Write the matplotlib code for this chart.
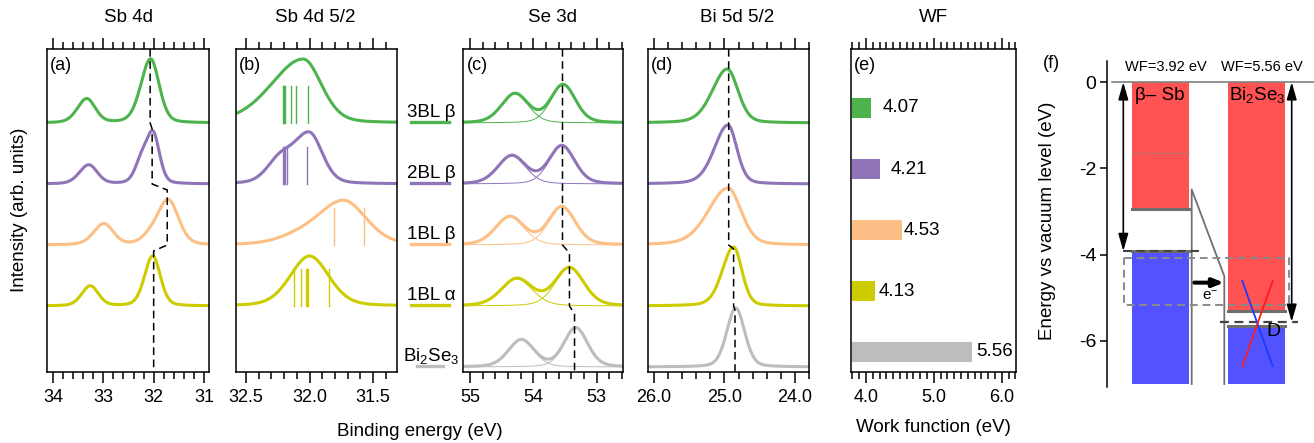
import numpy as np
import matplotlib
matplotlib.use("Agg")
import matplotlib.pyplot as plt
from matplotlib.ticker import MultipleLocator, FormatStrFormatter

plt.rcParams['font.family'] = ['Liberation Sans', 'DejaVu Sans']
plt.rcParams['mathtext.fontset'] = 'custom'
plt.rcParams['mathtext.rm'] = 'Liberation Sans'
plt.rcParams['mathtext.it'] = 'Liberation Sans:italic'
plt.rcParams['axes.unicode_minus'] = False

# ---- data ----
samples = ['3BL β', '2BL β', '1BL β', '1BL α', 'Bi$_2$Se$_3$']
colours = ['#4db34d', '#8f74b8', '#fdbf85', '#cccc00', '#bdbdbd']

# peaks: (centre eV, height, hwhm high-BE side, hwhm low-BE side)
sb4d = [
    [(32.06, 64, 0.23, 0.20), (33.33, 24, 0.22, 0.20)],
    [(32.01, 49, 0.16, 0.15), (32.25, 20, 0.15, 0.15), (33.29, 19, 0.22, 0.20)],
    [(31.71, 45, 0.26, 0.24), (32.10, 5, 0.20, 0.20), (32.99, 21, 0.24, 0.22)],
    [(32.02, 50, 0.19, 0.18), (33.26, 20, 0.20, 0.19)],
]
sb4d52 = [
    [(32.05, 64, 0.30, 0.17)],
    [(32.00, 50, 0.15, 0.12), (32.24, 21, 0.12, 0.12)],
    [(31.73, 44, 0.24, 0.21), (32.10, 6, 0.20, 0.20)],
    [(32.00, 50, 0.18, 0.18)],
]
sb4d52_calc = [
    [32.21, 32.20, 32.19, 32.15, 32.11, 32.01],
    [32.21, 32.20, 32.19, 32.18, 32.02],
    [31.81, 31.57],
    [32.12, 32.07, 32.03, 32.02, 32.01, 31.85],
]
se3d = [
    [(53.53, 38, 0.23, 0.23), (54.29, 29, 0.25, 0.25)],
    [(53.55, 38, 0.24, 0.24), (54.34, 28, 0.26, 0.26)],
    [(53.55, 38, 0.25, 0.25), (54.37, 28, 0.27, 0.27)],
    [(53.43, 38, 0.27, 0.27), (54.26, 27, 0.29, 0.29)],
    [(53.33, 39, 0.22, 0.22), (54.19, 27, 0.24, 0.24)],
]
bi5d = [
    [(24.96, 54, 0.25, 0.18)],
    [(24.95, 59, 0.23, 0.15)],
    [(24.95, 57, 0.33, 0.22)],
    [(24.87, 59, 0.19, 0.14)],
    [(24.84, 59, 0.15, 0.15)],
]
sb4d_guide = [32.07, 32.03, 31.73, 32.00]
se3d_guide = [53.54, 53.54, 53.54, 53.43, 53.35]
bi5d_guide = [24.94, 24.94, 24.94, 24.87, 24.85]

work_function = [4.07, 4.21, 4.53, 4.13, 5.56]

# band diagram (eV vs vacuum)
wf_ref = [3.92, 5.56]
cb_min = [-2.95, -5.30]
vb_max = [-3.92, -5.65]
band_floor = -7.0
sb_level = -1.65
bend_top, bend_bottom = -2.49, -4.50
window = (-4.07, -5.17)
transfer_level = -4.65
dirac_point, dirac_span = -5.60, 0.99

# ---- layout ----
W, H = 1314, 443
fig = plt.figure(figsize=(W / 100, H / 100), dpi=100)


def ax_px(l, r, t, b):
    return fig.add_axes([l / W, 1 - b / H, (r - l) / W, (b - t) / H])


spacing = 61
base = [5 + (4 - i) * spacing for i in range(5)]
YTOP = 323


def lineshape(x, c, h, wl, wr, eta=0.25):
    w = np.where(x > c, wl, wr)
    u = ((x - c) / w) ** 2
    return h * ((1 - eta) * np.exp(-np.log(2) * u) + eta / (1 + u))


def setup(ax, xlim, major, minor, fmt, label):
    ax.set_xlim(*xlim)
    ax.set_ylim(0, YTOP)
    ax.set_yticks([])
    ax.xaxis.set_major_locator(MultipleLocator(major))
    ax.xaxis.set_minor_locator(MultipleLocator(minor))
    ax.xaxis.set_major_formatter(FormatStrFormatter(fmt))
    ax.tick_params(axis='x', which='both', direction='out', top=True,
                   bottom=True, width=1.1, labelsize=13, pad=4.5)
    ax.tick_params(axis='x', which='major', length=8)
    ax.tick_params(axis='x', which='minor', length=5)
    for s in ax.spines.values():
        s.set_linewidth(1.1)
    ax.text(0.02, 0.975, label, transform=ax.transAxes, ha='left', va='top',
            fontsize=13)


def spectra(ax, peaks, components=False):
    x = np.linspace(*ax.get_xlim(), 700)
    for i, row in enumerate(peaks):
        total = np.full_like(x, base[i], dtype=float)
        for p in row:
            comp = lineshape(x, *p)
            total += comp
            if components:
                ax.plot(x, base[i] + comp, color=colours[i], lw=0.7)
        ax.plot(x, total, color=colours[i], lw=2.2, solid_capstyle='butt')


def guide(ax, xs, step=6):
    px, py = [xs[0]], [YTOP]
    for i in range(1, len(xs)):
        b = base[i - 1]
        px += [xs[i - 1], xs[i]]
        py += [b, b - step]
    px.append(xs[-1])
    py.append(0)
    ax.plot(px, py, color='k', lw=1.1, ls=(0, (5, 3)))


# (a) Sb 4d
ax_a = ax_px(47, 209, 49, 372)
setup(ax_a, (34.12, 30.9), 1, 0.2, '%d', '(a)')
spectra(ax_a, sb4d)
guide(ax_a, sb4d_guide)

# (b) Sb 4d 5/2
ax_b = ax_px(236, 397, 49, 372)
setup(ax_b, (32.58, 31.31), 0.5, 0.1, '%.1f', '(b)')
spectra(ax_b, sb4d52)
for i, lines in enumerate(sb4d52_calc):
    for e in lines:
        ax_b.plot([e, e], [base[i], base[i] + 37], color=colours[i], lw=1.0)

# legend between (b) and (c)
for i, name in enumerate(samples):
    half = 0.08 if i == 4 else 0.118
    ax_b.plot([1.205 - half, 1.205 + half], [base[i] + 1, base[i] + 1],
              color=colours[i], lw=2.4, clip_on=False,
              transform=ax_b.get_yaxis_transform())
    ax_b.text(1.215, base[i] + 6, name, ha='center', va='baseline',
              fontsize=13.5, transform=ax_b.get_yaxis_transform())

# (c) Se 3d
ax_c = ax_px(463.3, 622.7, 49, 372)
setup(ax_c, (55.105, 52.59), 1, 0.2, '%d', '(c)')
spectra(ax_c, se3d, components=True)
guide(ax_c, se3d_guide, step=8)

# (d) Bi 5d 5/2
ax_d = ax_px(648, 809, 49, 372)
setup(ax_d, (26.085, 23.80), 1, 0.2, '%.1f', '(d)')
spectra(ax_d, bi5d)
guide(ax_d, bi5d_guide, step=4)

# (e) work function
ax_e = ax_px(851, 1016, 49, 372)
setup(ax_e, (3.78, 6.21), 1, 0.1, '%.1f', '(e)')
bar_y = [b + 15 for b in base]
ax_e.barh(bar_y, [v - 3.8 for v in work_function], left=3.8, height=20,
          color=colours, edgecolor='none')
label_gap = [0.17, 0.15, 0.03, 0.06, 0.07]
for y, v, g in zip(bar_y, work_function, label_gap):
    ax_e.text(v + g, y, f'{v:.2f}', va='center', ha='left', fontsize=13.5)

# titles and shared labels
for xc, t in zip([128, 315, 553, 737, 933],
                 ['Sb 4d', 'Sb 4d 5/2', 'Se 3d', 'Bi 5d 5/2', 'WF']):
    fig.text(xc / W, 1 - 18 / H, t, ha='center', va='center', fontsize=13.5)
fig.text(20 / W, 1 - 210 / H, 'Intensity (arb. units)', rotation=90,
         ha='center', va='center', fontsize=13.5)
fig.text(420 / W, 1 - 431 / H, 'Binding energy (eV)', ha='center',
         va='center', fontsize=13.5)
fig.text(933 / W, 1 - 428 / H, 'Work function (eV)', ha='center',
         va='center', fontsize=13.5)

# (f) band alignment
ax_f = ax_px(1107.3, 1314, 61, 387)
ax_f.set_xlim(0, 20.67)
ax_f.set_ylim(-7.07, 0.49)
for s in ['top', 'right', 'bottom']:
    ax_f.spines[s].set_visible(False)
ax_f.spines['left'].set_linewidth(1.1)
ax_f.set_xticks([])
ax_f.set_yticks([0, -2, -4, -6])
ax_f.tick_params(axis='y', direction='out', length=5, width=1.1,
                 labelsize=14, pad=3)

red, blue, edge = '#ff5252', '#5252ff', '#6e6e6e'
col_left = [2.47, 12.07]
col_w = 5.72
for xl, cb, vb in zip(col_left, cb_min, vb_max):
    ax_f.bar(xl, cb, bottom=0, width=col_w, align='edge', color=red)
    ax_f.bar(xl, band_floor - vb, bottom=vb, width=col_w, align='edge',
             color=blue)
    ax_f.plot([xl, xl + col_w], [cb, cb], color=edge, lw=2.2)
    ax_f.plot([xl, xl + col_w], [vb, vb], color=edge, lw=2.2)
ax_f.plot([2.47, 2.47 + col_w], [sb_level, sb_level], color='#888888',
          lw=1.0, ls=(0, (1, 1)))

ax_f.axhline(0, xmin=0.45 / 20.67, color='#808080', lw=1.2)
ax_f.plot([8.44, 8.44, 11.7, 11.7], [band_floor, bend_top, bend_bottom,
          band_floor], color='#707070', lw=1.3)

ax_f.plot([1.67, 18.2, 18.2, 1.67, 1.67],
          [window[0], window[0], window[1], window[1], window[0]],
          color='#8a8a8a', lw=1.4, ls=(0, (4, 2.5)))
ax_f.plot([1.57, 9.27], [-wf_ref[0], -wf_ref[0]], color='#444444', lw=1.5,
          ls=(0, (4, 2.5)))
ax_f.plot([11.27, 19.1], [-wf_ref[1], -wf_ref[1]], color='#444444', lw=1.6,
          ls=(0, (4, 2.5)))

for x, wf in zip([1.6, 18.44], wf_ref):
    ax_f.annotate('', xy=(x, -wf), xytext=(x, 0),
                  arrowprops=dict(arrowstyle='<|-|>,head_length=0.7,head_width=0.2',
                                  color='k', lw=1.2, shrinkA=0, shrinkB=0,
                                  mutation_scale=15))
ax_f.annotate('', xy=(11.67, transfer_level), xytext=(8.7, transfer_level),
              arrowprops=dict(arrowstyle='-|>,head_length=0.45,head_width=0.18',
                              color='k', lw=2.9, shrinkA=0, shrinkB=0,
                              mutation_scale=14))
ax_f.text(10.27, -4.96, 'e$^{-}$', ha='center', va='center', fontsize=11)

xd = 15.02
ax_f.plot([xd - 1.52, xd + 1.52], [dirac_point + dirac_span,
          dirac_point - dirac_span], color='#1a3cff', lw=1.3)
ax_f.plot([xd - 1.52, xd + 1.52], [dirac_point - dirac_span,
          dirac_point + dirac_span], color='#ff1a1a', lw=1.3)
ax_f.text(16.6, -5.79, 'D', ha='center', va='center', fontsize=14)

ax_f.text(5.27, -0.3, 'β– Sb', ha='center', va='center', fontsize=13.5)
ax_f.text(14.97, -0.3, 'Bi$_2$Se$_3$', ha='center', va='center',
          fontsize=13.5)
ax_f.text(5.82, 0.36, 'WF=3.92 eV', ha='center', va='center', fontsize=10.5)
ax_f.text(15.47, 0.36, 'WF=5.56 eV', ha='center', va='center', fontsize=10.5)
fig.text(1051 / W, 1 - 64 / H, '(f)', ha='center', va='center', fontsize=13)
fig.text(1048 / W, 1 - 221 / H, 'Energy vs vacuum level (eV)', rotation=90,
         ha='center', va='center', fontsize=13.5)

fig.savefig('out.png', dpi=100)
